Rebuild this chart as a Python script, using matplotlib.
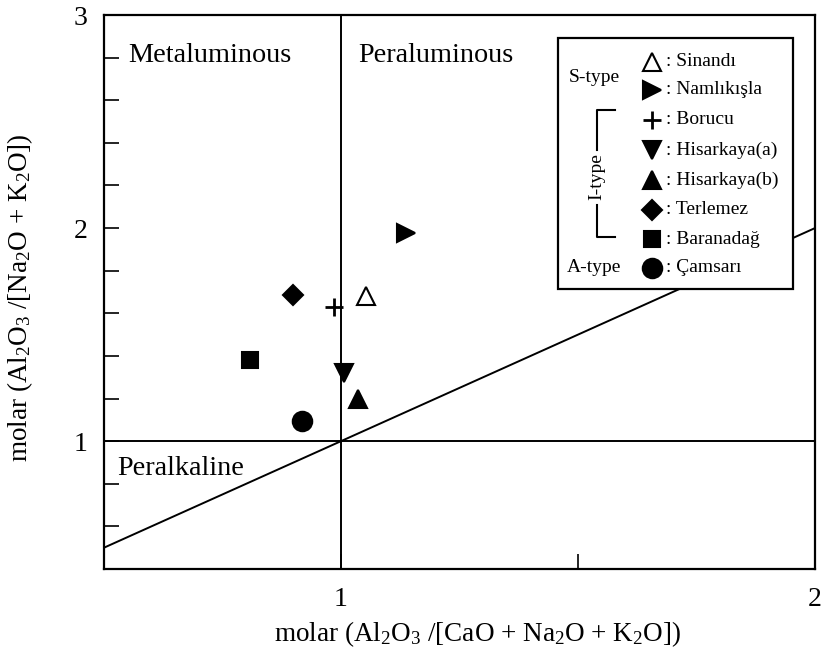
import matplotlib

matplotlib.use("Agg")
import matplotlib.pyplot as plt
from matplotlib.patches import Rectangle

plt.rcParams["font.family"] = ["Liberation Serif", "DejaVu Serif"]
plt.rcParams["mathtext.fontset"] = "custom"
plt.rcParams["mathtext.rm"] = "Liberation Serif"
plt.rcParams["mathtext.it"] = "Liberation Serif:italic"

# A/CNK vs A/NK values per locality
names = ["Sinandı", "Namlıkışla", "Borucu", "Hisarkaya(a)", "Hisarkaya(b)",
         "Terlemez", "Baranadağ", "Çamsarı"]
acnk = [1.053, 1.137, 0.985, 1.006, 1.036, 0.899, 0.808, 0.918]
ank = [1.68, 1.977, 1.63, 1.32, 1.197, 1.685, 1.38, 1.094]
markers = ["^", ">", "+", "v", "^", "D", "s", "o"]
filled = [False, True, True, True, True, True, True, True]
sizes = [13, 13, 13, 13, 13, 10, 12, 14]

x_ticks = [1.0, 1.5, 2.0]
x_labels = ["1", "", "2"]
y_ticks = [0.6, 0.8, 1.0, 1.2, 1.4, 1.6, 1.8, 2.0, 2.2, 2.4, 2.6, 2.8, 3.0]
y_labels = ["", "", "1", "", "", "", "", "2", "", "", "", "", "3"]
boundary = [0.5, 2.0]  # A/NK = A/CNK line

fig = plt.figure(figsize=(8.21, 6.54), dpi=100)
ax = fig.add_axes([104 / 821, 85 / 654, 711 / 821, 554 / 654])
ax.set_xlim(0.5, 2)
ax.set_ylim(0.4, 3)

ax.axhline(1, color="black", lw=1.4, zorder=1)
ax.axvline(1, color="black", lw=1.4, zorder=1)
ax.plot(boundary, boundary, color="black", lw=1.4, zorder=1)

for x, y, m, f, s in zip(acnk, ank, markers, filled, sizes):
    ax.plot(x, y, marker=m, ms=s, mec="black", mew=2 if m == "+" else 1.5,
            mfc="black" if f else "white", color="black", ls="none", zorder=3)

ax.set_xticks(x_ticks)
ax.set_xticklabels(x_labels)
ax.set_yticks(y_ticks)
ax.set_yticklabels(y_labels)
ax.tick_params(direction="in", length=11, width=1.2, labelsize=20)
ax.tick_params(axis="y", pad=12)
ax.tick_params(axis="x", pad=13)
for sp in ax.spines.values():
    sp.set_linewidth(1.6)

ax.set_xlabel("molar (Al$_2$O$_3$ /[CaO + Na$_2$O + K$_2$O])", fontsize=19.5)
ax.xaxis.set_label_coords(0.525, -0.09)
ax.set_ylabel("molar (Al$_2$O$_3$ /[Na$_2$O + K$_2$O])", fontsize=19.5)
ax.yaxis.set_label_coords(-0.097, 0.49)

ax.text(0.552, 2.81, "Metaluminous", fontsize=20.3, va="center")
ax.text(1.036, 2.81, "Peraluminous", fontsize=20.3, va="center")
ax.text(0.527, 0.873, "Peralkaline", fontsize=20.3, va="center")


def ax_xy(px, py):
    return (px - 104) / 711, (569 - py) / 554


# legend box drawn by hand
x0, y0 = ax_xy(558, 289)
x1, y1 = ax_xy(793, 38)
ax.add_patch(Rectangle((x0, y0), x1 - x0, y1 - y0, transform=ax.transAxes,
                       facecolor="white", edgecolor="black", lw=1.6, zorder=4))
row_y = [62, 90, 120, 150, 180, 210, 239, 268]
for name, m, f, s, py in zip(names, markers, filled, sizes, row_y):
    mx, my = ax_xy(652, py)
    ax.plot(mx, my, marker=m, ms=s, mec="black", mew=2 if m == "+" else 1.5,
            mfc="black" if f else "white", transform=ax.transAxes,
            ls="none", zorder=5, clip_on=False)
    tx, ty = ax_xy(666, py)
    ax.text(tx, ty, ": " + name, transform=ax.transAxes, fontsize=14,
            va="center", ha="left", zorder=5)

gx, gy = ax_xy(594, 77)
ax.text(gx, gy, "S-type", transform=ax.transAxes, fontsize=14,
        ha="center", va="center", zorder=5)
gx, gy = ax_xy(594, 268)
ax.text(gx, gy, "A-type", transform=ax.transAxes, fontsize=14,
        ha="center", va="center", zorder=5)
gx, gy = ax_xy(597, 177)
ax.text(gx, gy, "I-type", transform=ax.transAxes, fontsize=14, rotation=90,
        ha="center", va="center", zorder=5)
for seg in ([(615, 110), (597, 110), (597, 150)], [(597, 205), (597, 237), (615, 237)]):
    pts = [ax_xy(px, py) for px, py in seg]
    ax.plot([p[0] for p in pts], [p[1] for p in pts], color="black", lw=1.5,
            transform=ax.transAxes, zorder=5)

fig.savefig("out.png", dpi=100)
